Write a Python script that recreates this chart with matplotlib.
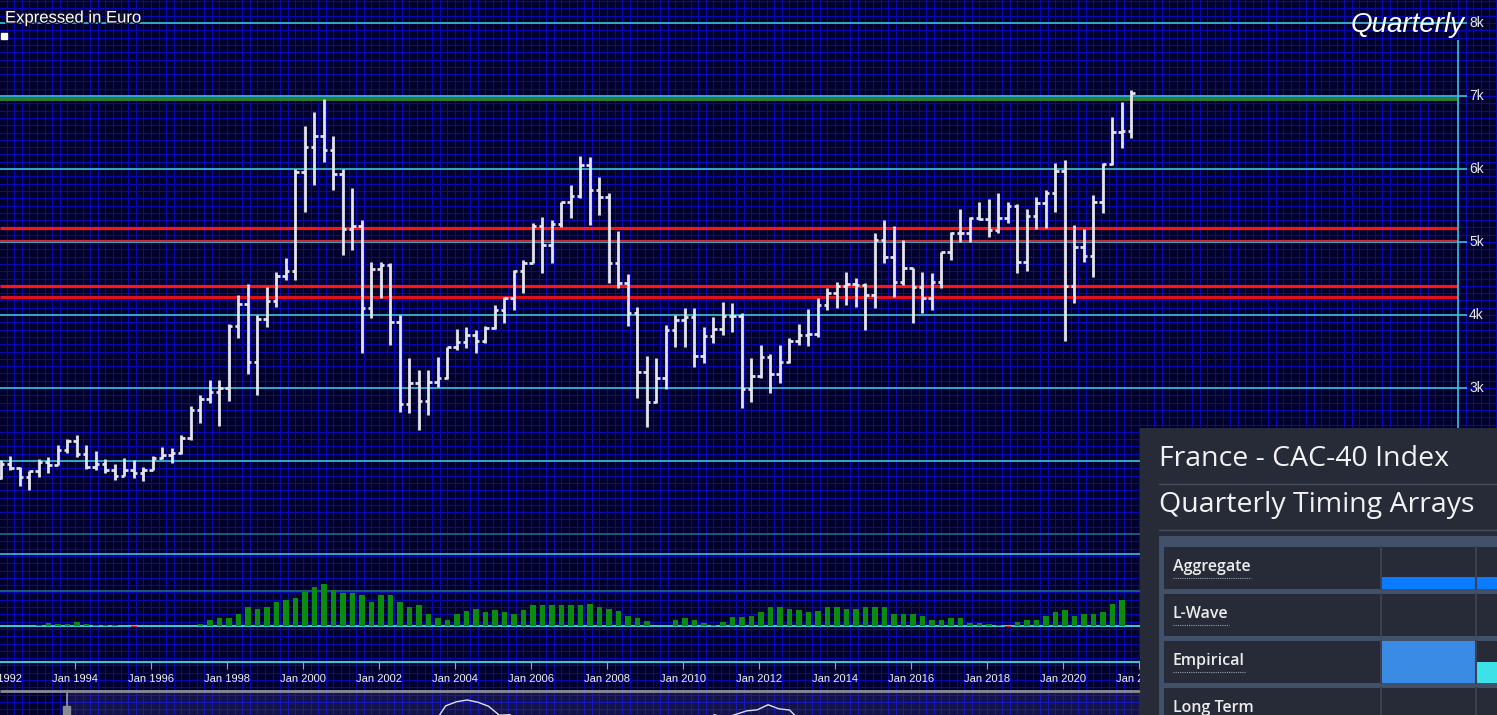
import matplotlib
matplotlib.use("Agg")
import matplotlib.pyplot as plt
import matplotlib.patheffects as pe
from matplotlib.patches import Rectangle
from matplotlib.ticker import MultipleLocator
import numpy as np
import pandas as pd

# ---------------- data ----------------
quarters = pd.period_range("1992Q1", "2021Q4", freq="Q")

opens = [1766, 1960, 1900, 1780, 1858, 1985, 1950, 2150, 2268, 2100, 1920, 1960,
         1881, 1800, 1880, 1830, 1872, 2040, 2080, 2110, 2315, 2700, 2850, 2950,
         2999, 3850, 4150, 3360, 3943, 4198, 4536, 4600, 5958, 6300, 6450, 6266,
         5926, 5180, 5225, 4090, 4625, 4688, 3900, 2777, 3064, 2824, 3085, 3134,
         3558, 3625, 3730, 3640, 3821, 4068, 4230, 4600, 4715, 5220, 4965, 5250,
         5542, 5634, 6055, 5715, 5614, 4707, 4434, 4032, 3218, 2807, 3140, 3795,
         3936, 3974, 3443, 3715, 3805, 3989, 3982, 2982, 3160, 3424, 3197, 3355,
         3641, 3732, 3739, 4143, 4296, 4392, 4423, 4416, 4273, 5033, 4790, 4455,
         4637, 4385, 4237, 4448, 4862, 5122, 5121, 5330, 5312, 5167, 5324, 5493,
         4731, 5350, 5539, 5678, 5978, 4396, 4936, 4803, 5551, 6067, 6508, 6520]
highs = [2013, 2068, 1917, 1863, 2027, 2054, 2219, 2300, 2356, 2219, 2136, 2027,
         1958, 2040, 2013, 1917, 2068, 2192, 2178, 2356, 2753, 2904, 3109, 3109,
         3876, 4274, 4424, 4000, 4383, 4589, 4781, 6000, 6589, 6781, 6959, 6452,
         6000, 5740, 5301, 4726, 4726, 4712, 4000, 3411, 3246, 3246, 3424, 3561,
         3808, 3835, 3794, 3849, 4137, 4246, 4616, 4753, 5260, 5342, 5301, 5548,
         5781, 6178, 6164, 5890, 5671, 5150, 4561, 4109, 3438, 3411, 3863, 4000,
         4096, 4096, 3835, 3972, 4178, 4164, 4027, 3411, 3589, 3465, 3589, 3685,
         3876, 4082, 4233, 4370, 4452, 4589, 4507, 4438, 5123, 5301, 5219, 5027,
         4650, 4589, 4575, 4863, 5137, 5452, 5342, 5548, 5589, 5671, 5548, 5520,
         5452, 5616, 5712, 6082, 6123, 5233, 5178, 5644, 6082, 6712, 6918, 7082]
lows = [1760, 1876, 1657, 1602, 1781, 1835, 1945, 2109, 2054, 1890, 1876, 1835,
        1739, 1790, 1767, 1725, 1870, 2030, 1972, 2100, 2287, 2520, 2794, 2479,
        2822, 3685, 3191, 2904, 3835, 4109, 4479, 4479, 5411, 5781, 6096, 5712,
        4822, 4890, 3479, 3959, 4233, 3589, 2671, 2657, 2424, 2630, 3013, 3130,
        3520, 3548, 3479, 3616, 3815, 3890, 4068, 4301, 4712, 4575, 4712, 5205,
        5329, 5603, 5233, 5370, 4438, 4370, 3849, 2863, 2465, 2794, 2986, 3561,
        3561, 3287, 3342, 3616, 3726, 3767, 2726, 2808, 3137, 2931, 3068, 3342,
        3589, 3575, 3698, 4068, 4096, 4137, 4109, 3794, 4096, 4712, 4246, 4411,
        3890, 4027, 4068, 4370, 4753, 5000, 5000, 5301, 5068, 5123, 5260, 4575,
        4603, 5178, 5192, 5411, 3644, 4164, 4726, 4520, 5397, 6050, 6288, 6424]
closes = [1960, 1900, 1780, 1858, 1985, 1950, 2150, 2268, 2100, 1920, 1960, 1881,
          1800, 1880, 1830, 1872, 2040, 2080, 2110, 2315, 2700, 2850, 2950, 2999,
          3850, 4150, 3360, 3943, 4198, 4536, 4600, 5958, 6300, 6450, 6266, 5926,
          5180, 5225, 4090, 4625, 4688, 3900, 2777, 3064, 2824, 3085, 3134, 3558,
          3625, 3730, 3640, 3821, 4068, 4230, 4600, 4715, 5220, 4965, 5250, 5542,
          5634, 6055, 5715, 5614, 4707, 4434, 4032, 3218, 2807, 3140, 3795, 3936,
          3974, 3443, 3715, 3805, 3989, 3982, 2982, 3160, 3424, 3197, 3355, 3641,
          3732, 3739, 4143, 4296, 4392, 4423, 4416, 4273, 5033, 4790, 4455, 4637,
          4385, 4237, 4448, 4862, 5122, 5121, 5330, 5312, 5167, 5324, 5493, 4731,
          5350, 5539, 5678, 5978, 4396, 4936, 4803, 5551, 6067, 6508, 6520, 7040]

# lower histogram indicator (arbitrary units)
indicator = [0, 0, 0, 0, 1, 3, 2, 2, 4, 2, 1, 1, 1, 0.5, -1, 0.5, 0.5, 0.5, 0.5, 0.5,
             0.5, 2, 6, 8, 8, 12, 19, 17, 19, 24, 26, 28, 34, 39, 42, 36, 33, 33, 31, 24,
             31, 31, 24, 19, 21, 12, 8, 6, 12, 15, 17, 14, 16, 14, 12, 16, 21, 21, 21, 21,
             21, 21, 22, 19, 17, 15, 10, 8, 5, 0, 0, 6, 8, 6, 3, 1, 4, 9, 9, 10,
             14, 19, 19, 17, 16, 14, 15, 19, 19, 17, 17, 19, 19, 19, 12, 12, 12, 10, 6, 6,
             8, 8, 3, 3, 2, 1, -1, 4, 6, 6, 10, 14, 16, 10, 12, 12, 14, 22, 26, 0]

price_levels = [8000, 7000, 6000, 5000, 4000, 3000, 2000]
price_labels = ["8k", "7k", "6k", "5k", "4k", "3k", "2k"]
dim_level = 1000
red_levels = [5192, 5014, 4397, 4247]
green_level = 6955
tick_years = list(range(1992, 2031, 2))

timing_rows = ["Aggregate", "L-Wave", "Empirical", "Long Term"]
timing_col1 = [0.27, 0.0, 1.0, 0.0]
timing_col2 = [0.27, 0.0, 0.5, 0.0]
timing_c1_colors = ["#0b7bff", "#0b7bff", "#3a8be4", "#3a8be4"]
timing_c2_colors = ["#0b7bff", "#0b7bff", "#3de2e8", "#3de2e8"]

# ---------------- layout helpers ----------------
W, H = 1497, 715
def yr(px):      # horizontal pixel -> year
    return 1992 + (px + 1) / 38.0
def pr(py):      # vertical pixel -> price
    return 7000 - (py - 96) * 1000.0 / 73.0
def fy(py):      # vertical pixel -> figure fraction
    return 1 - py / H

xq = np.array([q.start_time.year + (q.quarter - 1) * 0.25 for q in quarters]) + 0.05

BG = "#000028"
GRID = "#0707b4"
CYAN = "#38c6d8"
DIMC = "#1d6b7c"
NARROW = ["Liberation Sans Narrow", "Liberation Sans", "DejaVu Sans"]

fig = plt.figure(figsize=(W / 100, H / 100), dpi=100)
fig.patch.set_facecolor(BG)

ax = fig.add_axes([0, 0, 1, 1])
ax.set_facecolor(BG)
ax.set_xlim(yr(0), yr(W))
ax.set_ylim(pr(H), pr(0))
ax.xaxis.set_major_locator(MultipleLocator(0.2))
ax.yaxis.set_major_locator(MultipleLocator(100))
ax.grid(True, color=GRID, lw=0.8)
ax.tick_params(length=0, labelbottom=False, labelleft=False)
for s in ax.spines.values():
    s.set_visible(False)

# horizontal reference lines
ax.hlines(price_levels, yr(0), yr(1467), color=CYAN, lw=1.2, zorder=2)
ax.hlines([dim_level], yr(0), yr(1467), color=DIMC, lw=1.2, zorder=2)
ax.hlines([green_level], yr(0), yr(1458), color="#2a7f2a", lw=2.8, zorder=2)
ax.hlines(red_levels, yr(0), yr(1458), color=["#ff1414", "#c42c34", "#ff1414", "#e01018"],
          lw=[2.3, 1.6, 2.3, 2.3], zorder=2)
# right axis line
ax.vlines([yr(1458)], pr(662), pr(40), color=CYAN, lw=1.2, zorder=2)
for lv, lb in zip(price_levels, price_labels):
    ax.text(yr(1469), lv, lb, color="#e8e8f0", fontsize=10, va="center", ha="left",
            family=NARROW, zorder=3)

# OHLC bars
bar_col = "#e4e4ee"
tk = 3.5 / 38.0
ax.vlines(xq, lows, highs, color=bar_col, lw=2.0, zorder=4)
ax.hlines(opens, xq - tk, xq, color=bar_col, lw=2.0, zorder=4)
ax.hlines(closes, xq, xq + tk, color=bar_col, lw=2.0, zorder=4)

# x ticks / labels
ax.hlines([pr(662)], yr(0), yr(W), color=CYAN, lw=1.5, zorder=2)
ax.vlines(tick_years, pr(669), pr(662), color="#8fa8b8", lw=0.8, zorder=2)
for y in tick_years:
    ax.text(y, pr(679), f"Jan {y}", color="#f0f0f4", fontsize=8, ha="center",
            va="center", family=NARROW, zorder=3)
ax.hlines([pr(691)], yr(0), yr(W), color="#8c8c98", lw=2.0, zorder=2)

# texts
t = fig.text(5 / W, fy(18), "Expressed in Euro", color="white", fontsize=12,
             ha="left", va="center", family=NARROW)
t.set_path_effects([pe.withStroke(linewidth=2, foreground="#10102a")])
fig.text(1465 / W, fy(25), "Quarterly", color="white", fontsize=20, style="italic",
         ha="right", va="center", family=["Liberation Sans", "DejaVu Sans"])
fig.patches.append(Rectangle((1 / W, fy(39)), 6 / W, 6 / H, transform=fig.transFigure,
                             color="white"))

# indicator pane
axi = fig.add_axes([0, fy(670), 1, (670 - 540) / H])
axi.set_facecolor("none")
axi.set_xlim(yr(0), yr(W))
axi.set_ylim(-44, 86)
axi.axis("off")
axi.axhline(72, color=CYAN, lw=1.2)
axi.axhline(35, color=DIMC, lw=1.2)
axi.axhline(0, color=CYAN, lw=1.5, zorder=1)
axi.bar(xq, indicator, width=0.15,
        color=["#0c8c0c" if v >= 0 else "#c0202c" for v in indicator], zorder=2)

# navigator
axn = fig.add_axes([0, 0, 1, 22 / H])
axn.set_facecolor("none")
def nyr(px):
    return 2000.6 + (px - 480) / 43.0
axn.set_xlim(nyr(0), nyr(W))
axn.set_ylim(5200, 7033)
axn.axis("off")
axn.axvspan(nyr(67), nyr(W), color="#6a6ad8", alpha=0.18, lw=0)
axn.plot(xq, closes, color="#e0e0f0", lw=1.0)
axn.axvline(nyr(67), color="#9a9aa8", lw=1.2)
fig.patches.append(Rectangle((63 / W, 0), 7 / W, 9 / H, transform=fig.transFigure,
                             color="#8a8a96"))

# timing panel
axp = fig.add_axes([1140 / W, 0, (W - 1140) / W, (H - 428) / H])
axp.set_xlim(1140, W)
axp.set_ylim(H, 428)
axp.set_facecolor("#262b37")
axp.set_xticks([]); axp.set_yticks([])
for s in axp.spines.values():
    s.set_visible(False)
TF = ["Open Sans", "Lato", "DejaVu Sans"]
axp.text(1159, 459, "France - CAC-40 Index", color="#f2f2f2", fontsize=20.5,
         family=TF, ha="left", va="center")
axp.plot([1159, W], [484, 484], color="#464e60", lw=1)
axp.text(1159, 505, "Quarterly Timing Arrays", color="#f2f2f2", fontsize=20.5,
         family=TF, ha="left", va="center")
axp.plot([1159, W], [530, 530], color="#464e60", lw=1)
axp.add_patch(Rectangle((1159, 536), W - 1159, H - 536, color="#435069", lw=0))
row_tops = [547, 594, 641, 688]
rh = 41.5
fig.canvas.draw()
rend = fig.canvas.get_renderer()
for i, name in enumerate(timing_rows):
    top = row_tops[i]
    axp.add_patch(Rectangle((1164, top), W - 1164, rh, color="#262b37", lw=0))
    axp.plot([1381, 1381], [top, top + rh], color="#3a4152", lw=1.5)
    axp.plot([1476, 1476], [top, top + rh], color="#3a4152", lw=1.5)
    if timing_col1[i] > 0:
        hh = rh * timing_col1[i]
        axp.add_patch(Rectangle((1382, top + rh - hh), 93, hh, color=timing_c1_colors[i], lw=0))
    if timing_col2[i] > 0:
        hh = rh * timing_col2[i]
        axp.add_patch(Rectangle((1477, top + rh - hh), 100, hh, color=timing_c2_colors[i], lw=0))
    tx = axp.text(1173, top + 20, name, color="#ececec", fontsize=11.5, weight="semibold",
                  family=TF, ha="left", va="center")
    bb = tx.get_window_extent(renderer=rend)
    wpx = bb.width
    axp.plot([1173, 1173 + wpx], [top + 31, top + 31], color="#9aa0aa", lw=0.8,
             ls=(0, (1, 1)))

fig.savefig("out.png", dpi=100, facecolor=BG)
